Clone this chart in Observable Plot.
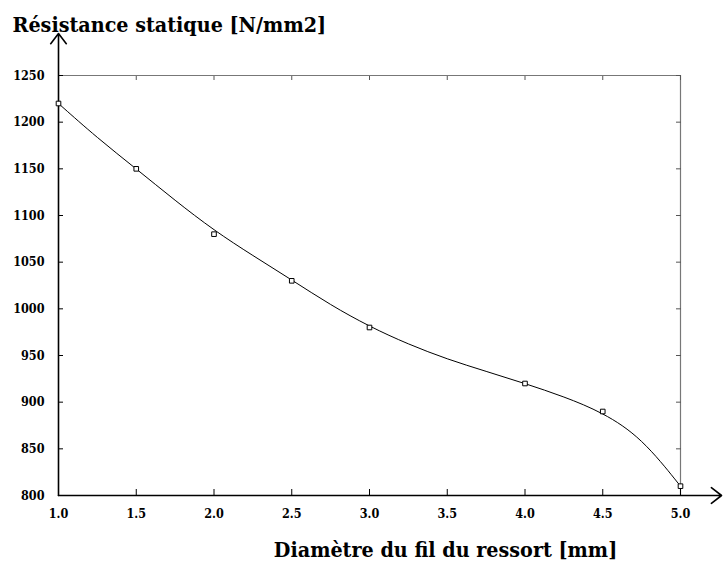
<!DOCTYPE html>
<html><head><meta charset="utf-8">
<script src="https://cdn.jsdelivr.net/npm/d3@7"></script>
<script src="https://cdn.jsdelivr.net/npm/@observablehq/plot@0.6"></script>
<style>body{margin:0;background:#fff} svg{display:block}</style>
</head><body><div id="chart"></div>
<script>
// measured points
const diameters = [1.0, 1.5, 2.0, 2.5, 3.0, 4.0, 4.5, 5.0];
const resistance = [1220, 1150, 1080, 1030, 980, 920, 890, 810];
// smoothed curve
const curveDiameters = [1.0, 1.25, 1.5, 1.75, 2.0, 2.25, 2.5, 2.75, 3.0, 3.25, 3.5, 3.75, 4.0, 4.25, 4.5, 4.75, 5.0];
const curveResistance = [1220, 1183, 1150, 1116, 1084, 1057, 1031, 1004, 981, 962, 946, 933, 920, 906, 889, 862, 810];
const xTicks = [1.0, 1.5, 2.0, 2.5, 3.0, 3.5, 4.0, 4.5, 5.0];
const yTicks = [800, 850, 900, 950, 1000, 1050, 1100, 1150, 1200, 1250];
const xTitle = "Diamètre du fil du ressort [mm]";
const yTitle = "Résistance statique [N/mm2]";
const xArrowEnd = 5.264;
const yArrowEnd = 1295;

const data = diameters.map((d, i) => ({d, r: resistance[i]}));
const curve = curveDiameters.map((d, i) => ({d, r: curveResistance[i]}));
const font = "DejaVu Serif Condensed";
const tickLabel = {fontSize: 12.5, fontWeight: "bold", fill: "black", fontFamily: font, label: null};

const chart = Plot.plot({
  width: 723, height: 564,
  marginLeft: 58, marginRight: 43, marginTop: 75, marginBottom: 69,
  style: {background: "#fff", overflow: "visible"},
  x: {domain: [1, 5]},
  y: {domain: [800, 1250]},
  marks: [
    Plot.ruleY([1250], {stroke: "#777", strokeWidth: 1.2}),
    Plot.ruleX([5], {stroke: "#777", strokeWidth: 1.2}),
    Plot.axisX(xTicks, {anchor: "top", tickSize: -4, tickFormat: () => "", stroke: "#555", label: null}),
    Plot.axisY(yTicks, {anchor: "right", tickSize: -5, tickFormat: () => "", stroke: "#555", label: null}),
    Plot.axisX(xTicks, {anchor: "bottom", tickSize: -6, tickFormat: () => "", stroke: "black", label: null}),
    Plot.axisY(yTicks, {anchor: "left", tickSize: -5, tickFormat: () => "", stroke: "black", label: null}),
    Plot.axisX(xTicks, {anchor: "bottom", tickSize: 0, tickPadding: 14, tickFormat: d3.format(".1f"), ...tickLabel}),
    Plot.axisY(yTicks, {anchor: "left", tickSize: 0, tickPadding: 14, tickFormat: d => String(d), ...tickLabel}),
    Plot.arrow([{x1: 1, y1: 800, x2: 1, y2: yArrowEnd}], {x1: "x1", y1: "y1", x2: "x2", y2: "y2", stroke: "black", strokeWidth: 1.6, headLength: 12, headAngle: 75}),
    Plot.arrow([{x1: 1, y1: 800, x2: xArrowEnd, y2: 800}], {x1: "x1", y1: "y1", x2: "x2", y2: "y2", stroke: "black", strokeWidth: 1.6, headLength: 12, headAngle: 75}),
    Plot.line(curve, {x: "d", y: "r", curve: "basis", stroke: "black", strokeWidth: 1}),
    Plot.dot(data, {x: "d", y: "r", symbol: "square", r: 2.6, stroke: "black", fill: "white", strokeWidth: 1}),
    Plot.text([yTitle], {text: d => d, frameAnchor: "top-left", textAnchor: "start", lineAnchor: "bottom", dx: -46, dy: -44, fontSize: 21.3, fontWeight: "bold", fill: "black", fontFamily: font}),
    Plot.text([xTitle], {text: d => d, frameAnchor: "bottom", textAnchor: "middle", lineAnchor: "bottom", dx: 76, dy: 61, fontSize: 21.3, fontWeight: "bold", fill: "black", fontFamily: font})
  ]
});
document.getElementById("chart").append(chart);
</script>
</body></html>
